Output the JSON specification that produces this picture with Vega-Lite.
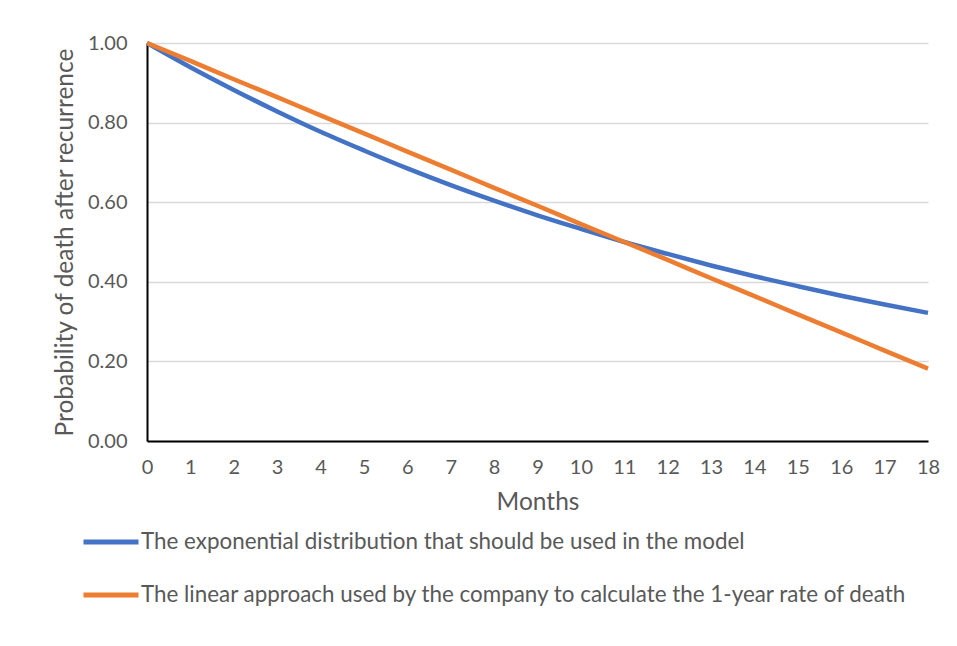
{
  "$schema": "https://vega.github.io/schema/vega-lite/v6.json",
  "width": 781,
  "height": 398,
  "autosize": {"type": "none"},
  "padding": {"left": 147, "top": 43, "right": 29, "bottom": 205},
  "background": "white",
  "config": {
    "font": "Lato",
    "view": {"stroke": null},
    "axis": {"labelColor": "#595959", "titleColor": "#595959", "labelFont": "Lato", "titleFont": "Lato", "titleFontWeight": "normal"}
  },
  "data": {
    "values": [
      {"month": 0, "p": 1.000, "series": "The exponential distribution that should be used in the model"},
      {"month": 1, "p": 0.939, "series": "The exponential distribution that should be used in the model"},
      {"month": 2, "p": 0.882, "series": "The exponential distribution that should be used in the model"},
      {"month": 3, "p": 0.828, "series": "The exponential distribution that should be used in the model"},
      {"month": 4, "p": 0.777, "series": "The exponential distribution that should be used in the model"},
      {"month": 5, "p": 0.730, "series": "The exponential distribution that should be used in the model"},
      {"month": 6, "p": 0.685, "series": "The exponential distribution that should be used in the model"},
      {"month": 7, "p": 0.643, "series": "The exponential distribution that should be used in the model"},
      {"month": 8, "p": 0.604, "series": "The exponential distribution that should be used in the model"},
      {"month": 9, "p": 0.567, "series": "The exponential distribution that should be used in the model"},
      {"month": 10, "p": 0.533, "series": "The exponential distribution that should be used in the model"},
      {"month": 11, "p": 0.500, "series": "The exponential distribution that should be used in the model"},
      {"month": 12, "p": 0.470, "series": "The exponential distribution that should be used in the model"},
      {"month": 13, "p": 0.441, "series": "The exponential distribution that should be used in the model"},
      {"month": 14, "p": 0.414, "series": "The exponential distribution that should be used in the model"},
      {"month": 15, "p": 0.389, "series": "The exponential distribution that should be used in the model"},
      {"month": 16, "p": 0.365, "series": "The exponential distribution that should be used in the model"},
      {"month": 17, "p": 0.343, "series": "The exponential distribution that should be used in the model"},
      {"month": 18, "p": 0.322, "series": "The exponential distribution that should be used in the model"},
      {"month": 0, "p": 1.000, "series": "The linear approach used by the company to calculate the 1-year rate of death"},
      {"month": 1, "p": 0.955, "series": "The linear approach used by the company to calculate the 1-year rate of death"},
      {"month": 2, "p": 0.909, "series": "The linear approach used by the company to calculate the 1-year rate of death"},
      {"month": 3, "p": 0.864, "series": "The linear approach used by the company to calculate the 1-year rate of death"},
      {"month": 4, "p": 0.818, "series": "The linear approach used by the company to calculate the 1-year rate of death"},
      {"month": 5, "p": 0.773, "series": "The linear approach used by the company to calculate the 1-year rate of death"},
      {"month": 6, "p": 0.727, "series": "The linear approach used by the company to calculate the 1-year rate of death"},
      {"month": 7, "p": 0.682, "series": "The linear approach used by the company to calculate the 1-year rate of death"},
      {"month": 8, "p": 0.636, "series": "The linear approach used by the company to calculate the 1-year rate of death"},
      {"month": 9, "p": 0.591, "series": "The linear approach used by the company to calculate the 1-year rate of death"},
      {"month": 10, "p": 0.545, "series": "The linear approach used by the company to calculate the 1-year rate of death"},
      {"month": 11, "p": 0.500, "series": "The linear approach used by the company to calculate the 1-year rate of death"},
      {"month": 12, "p": 0.455, "series": "The linear approach used by the company to calculate the 1-year rate of death"},
      {"month": 13, "p": 0.409, "series": "The linear approach used by the company to calculate the 1-year rate of death"},
      {"month": 14, "p": 0.364, "series": "The linear approach used by the company to calculate the 1-year rate of death"},
      {"month": 15, "p": 0.318, "series": "The linear approach used by the company to calculate the 1-year rate of death"},
      {"month": 16, "p": 0.273, "series": "The linear approach used by the company to calculate the 1-year rate of death"},
      {"month": 17, "p": 0.227, "series": "The linear approach used by the company to calculate the 1-year rate of death"},
      {"month": 18, "p": 0.182, "series": "The linear approach used by the company to calculate the 1-year rate of death"}
    ]
  },
  "mark": {"type": "line", "strokeWidth": 4.5, "interpolate": "monotone", "strokeCap": "butt"},
  "encoding": {
    "x": {
      "field": "month", "type": "quantitative",
      "scale": {"domain": [0, 18], "nice": false, "zero": false},
      "axis": {
        "title": "Months", "values": [0,1,2,3,4,5,6,7,8,9,10,11,12,13,14,15,16,17,18],
        "grid": false, "ticks": false, "domainColor": "#000000", "domainWidth": 2,
        "labelFontSize": 20, "labelPadding": 16, "labelFlush": false,
        "titleFontSize": 24.5, "titlePadding": 13
      }
    },
    "y": {
      "field": "p", "type": "quantitative",
      "scale": {"domain": [0, 1], "nice": false},
      "axis": {
        "title": "Probability of death after recurrence", "values": [0, 0.2, 0.4, 0.6, 0.8, 1.0],
        "format": ".2f", "grid": true, "gridColor": "#d9d9d9", "gridWidth": 1.5,
        "ticks": false, "domainColor": "#000000", "domainWidth": 2,
        "labelFontSize": 20, "labelPadding": 20,
        "titleFontSize": 24.5, "titlePadding": 10
      }
    },
    "color": {
      "field": "series", "type": "nominal",
      "scale": {
        "domain": ["The exponential distribution that should be used in the model", "The linear approach used by the company to calculate the 1-year rate of death"],
        "range": ["#4472C4", "#ED7D31"]
      },
      "legend": {
        "title": null, "orient": "none", "legendX": -66, "legendY": 469,
        "direction": "vertical", "symbolType": "stroke", "symbolSize": 3025,
        "symbolStrokeWidth": 5, "labelFontSize": 22.4, "labelColor": "#595959",
        "labelOffset": 0, "rowPadding": 11, "labelLimit": 900
      }
    }
  }
}
